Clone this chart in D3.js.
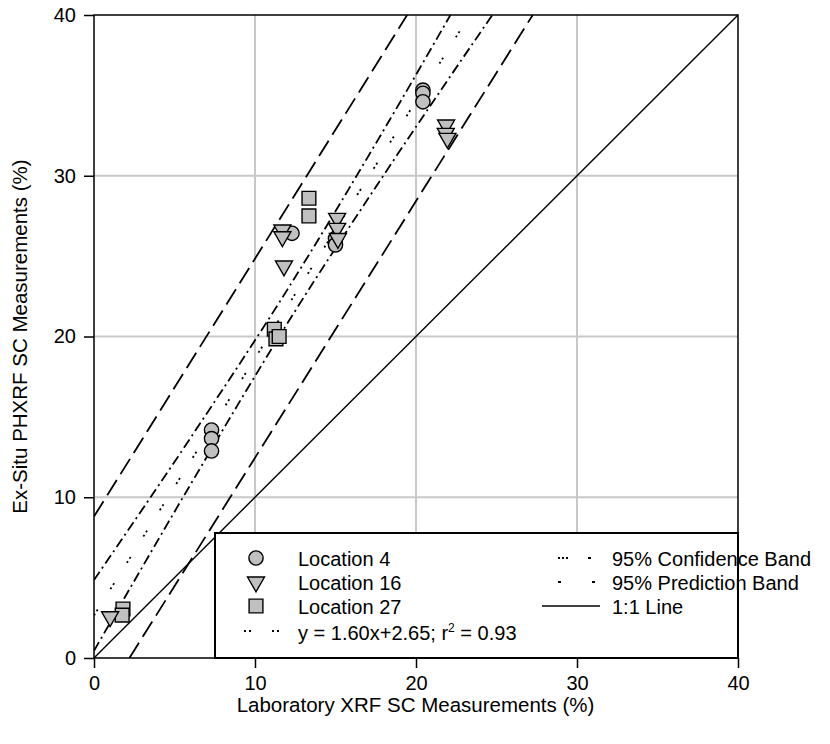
<!DOCTYPE html>
<html>
<head>
<meta charset="utf-8">
<script src="https://cdn.jsdelivr.net/npm/d3@7"></script>
<style>
  html, body { margin: 0; padding: 0; background: #fff; }
  svg { display: block; font-family: "Liberation Sans", Arial, sans-serif; }
</style>
</head>
<body>
<svg id="chart" width="830" height="744"></svg>
<script>
// Measured SC (%) pairs: [laboratory XRF, ex-situ PHXRF]
const location4 = [[7.3, 14.18], [7.3, 13.65], [7.3, 12.88], [12.3, 26.42], [15.0, 26.1], [15.0, 25.7],
                   [20.43, 35.33], [20.43, 35.13], [20.43, 34.6]];
const location16 = [[1.0, 2.57], [11.7, 26.63], [11.7, 26.21], [11.8, 24.39], [15.1, 27.35], [15.1, 26.73],
                    [15.15, 26.1], [21.87, 33.16], [21.85, 32.64], [21.95, 32.33]];
const location27 = [[1.8, 3.05], [1.75, 2.67], [11.2, 20.45], [11.3, 19.85], [11.5, 20.0],
                    [13.35, 28.6], [13.35, 27.5]];

// Linear fit y = slope*x + intercept
const fitSlope = 1.60, fitIntercept = 2.65, fitR2 = 0.93;

// 95% bands (x, y)
const confUpper = [[0, 4.85], [6, 13.7], [12, 22.9], [18, 32.85], [22.14, 40]];
const confLower = [[0, 0.45], [6, 10.8], [12, 20.8], [18, 30.05], [24.74, 40]];
const predUpper = [[0, 8.8], [19.45, 40]];
const predLower = [[2.2, 0], [27.25, 40]];

const ticks = [0, 10, 20, 30, 40];
const gridTicks = [10, 20, 30];

const svg = d3.select("#chart");
const pLeft = 94, pRight = 738, pTop = 15, pBottom = 658;
const x = d3.scaleLinear().domain([0, 40]).range([pLeft, pRight]);
const y = d3.scaleLinear().domain([0, 40]).range([pBottom, pTop]);

svg.append("defs").append("clipPath").attr("id", "plotClip")
  .append("rect").attr("x", pLeft).attr("y", pTop).attr("width", pRight - pLeft).attr("height", pBottom - pTop);

// grid
const grid = svg.append("g").attr("stroke", "#c8c8c8").attr("stroke-width", 2);
grid.selectAll("line.gx").data(gridTicks).join("line")
  .attr("x1", d => x(d)).attr("x2", d => x(d)).attr("y1", pTop).attr("y2", pBottom);
grid.selectAll("line.gy").data(gridTicks).join("line")
  .attr("y1", d => y(d)).attr("y2", d => y(d)).attr("x1", pLeft).attr("x2", pRight);

const plot = svg.append("g").attr("clip-path", "url(#plotClip)");
const line = d3.line().x(d => x(d[0])).y(d => y(d[1]));

// 1:1 line
plot.append("path").datum([[0, 0], [40, 40]]).attr("d", line)
  .attr("fill", "none").attr("stroke", "#000").attr("stroke-width", 1.4);

// prediction bands
[predUpper, predLower].forEach(b => {
  plot.append("path").datum(b).attr("d", line)
    .attr("fill", "none").attr("stroke", "#000").attr("stroke-width", 1.8)
    .attr("stroke-dasharray", "18,7");
});
// confidence bands
[confUpper, confLower].forEach(b => {
  plot.append("path").datum(b).attr("d", d3.line().curve(d3.curveMonotoneX).x(d => x(d[0])).y(d => y(d[1])))
    .attr("fill", "none").attr("stroke", "#000").attr("stroke-width", 1.8)
    .attr("stroke-dasharray", "10,4,2,4");
});
// regression line
plot.append("path").datum([0, 40].map(v => [v, fitSlope * v + fitIntercept])).attr("d", line)
  .attr("fill", "none").attr("stroke", "#000").attr("stroke-width", 1.8)
  .attr("stroke-dasharray", "2,3,2,24");

// markers
const fill = "#c0c0c0";
const sym = {
  circle: d3.symbol().type(d3.symbolCircle).size(160),
  square: d3.symbol().type(d3.symbolSquare).size(190),
};
function triPath(cx, cy, s) {
  const h = s * 0.87;
  return `M${cx - s / 2},${cy - h / 3}L${cx + s / 2},${cy - h / 3}L${cx},${cy + 2 * h / 3}Z`;
}
const marks = svg.append("g").attr("fill", fill).attr("stroke", "#000").attr("stroke-width", 1.4);
marks.selectAll("path.c").data(location4).join("path")
  .attr("d", sym.circle()).attr("transform", d => `translate(${x(d[0])},${y(d[1])})`);
marks.selectAll("path.s").data(location27).join("path")
  .attr("d", sym.square()).attr("transform", d => `translate(${x(d[0])},${y(d[1])})`);
marks.selectAll("path.t").data(location16).join("path")
  .attr("d", d => triPath(x(d[0]), y(d[1]), 17));

// frame
svg.append("path")
  .attr("d", `M${pLeft},${pTop}H${pRight}V${pBottom}H${pLeft}Z`)
  .attr("fill", "none").attr("stroke", "#000").attr("stroke-width", 1.5);

// axes
const xAxis = svg.append("g").attr("transform", `translate(0,${pBottom})`)
  .call(d3.axisBottom(x).tickValues(ticks).tickSize(10).tickPadding(8).tickFormat(d3.format("d")));
const yAxis = svg.append("g").attr("transform", `translate(${pLeft},0)`)
  .call(d3.axisLeft(y).tickValues(ticks).tickSize(10).tickPadding(8).tickFormat(d3.format("d")));
[xAxis, yAxis].forEach(a => {
  a.select(".domain").remove();
  a.selectAll(".tick line").attr("stroke", "#000").attr("stroke-width", 1.5);
  a.selectAll(".tick text").attr("fill", "#000").style("font-size", "20px")
    .style("font-family", "'Liberation Sans', Arial, sans-serif");
});

svg.append("text").attr("x", (pLeft + pRight) / 2 - 0.5).attr("y", 712).attr("text-anchor", "middle")
  .style("font-size", "20.5px").text("Laboratory XRF SC Measurements (%)");
svg.append("text").attr("transform", `translate(27,${(pTop + pBottom) / 2}) rotate(-90)`)
  .attr("text-anchor", "middle").style("font-size", "20.5px").text("Ex-Situ PHXRF SC Measurements (%)");

// legend
const lg = svg.append("g");
lg.append("rect").attr("x", 215).attr("y", 533).attr("width", pRight - 215).attr("height", pBottom - 533)
  .attr("fill", "#fff").attr("stroke", "#000").attr("stroke-width", 2);
const legendItems = [
  { label: "Location 4", kind: "circle", yy: 558 },
  { label: "Location 16", kind: "tri", yy: 582 },
  { label: "Location 27", kind: "square", yy: 606 },
];
legendItems.forEach(it => {
  const g = lg.append("g").attr("fill", fill).attr("stroke", "#000").attr("stroke-width", 1.4);
  if (it.kind === "circle") g.append("path").attr("d", sym.circle()).attr("transform", `translate(256,${it.yy})`);
  if (it.kind === "square") g.append("path").attr("d", sym.square()).attr("transform", `translate(256,${it.yy})`);
  if (it.kind === "tri") g.append("path").attr("d", triPath(256, it.yy, 17));
  lg.append("text").attr("x", 298).attr("y", it.yy + 8).style("font-size", "20px").text(it.label);
});
// fit entry
lg.append("line").attr("x1", 244).attr("x2", 280).attr("y1", 631).attr("y2", 631)
  .attr("stroke", "#000").attr("stroke-width", 1.8).attr("stroke-dasharray", "2,3,2,21");
const eq = lg.append("text").attr("x", 298).attr("y", 640).style("font-size", "20px").attr("fill", "#000");
eq.append("tspan").text(`y = ${fitSlope.toFixed(2)}x+${fitIntercept.toFixed(2)}; r`);
eq.append("tspan").attr("dy", -8).style("font-size", "12px").text("2");
eq.append("tspan").attr("dy", 8).text(` = ${fitR2.toFixed(2)}`);

// band entries
const bandItems = [
  { label: "95% Confidence Band", dash: "2,2,2,2,2,20,3,10", yy: 558 },
  { label: "95% Prediction Band", dash: "3,31,3,20", yy: 582 },
  { label: "1:1 Line", dash: null, yy: 606 },
];
bandItems.forEach(it => {
  const l = lg.append("line").attr("x1", it.dash ? 558 : 542).attr("x2", 600)
    .attr("y1", it.yy).attr("y2", it.yy).attr("stroke", "#000")
    .attr("stroke-width", it.dash ? 1.8 : 1.4);
  if (it.dash) l.attr("stroke-dasharray", it.dash);
  lg.append("text").attr("x", 612).attr("y", it.yy + 8).style("font-size", "20px").text(it.label);
});
</script>
</body>
</html>
